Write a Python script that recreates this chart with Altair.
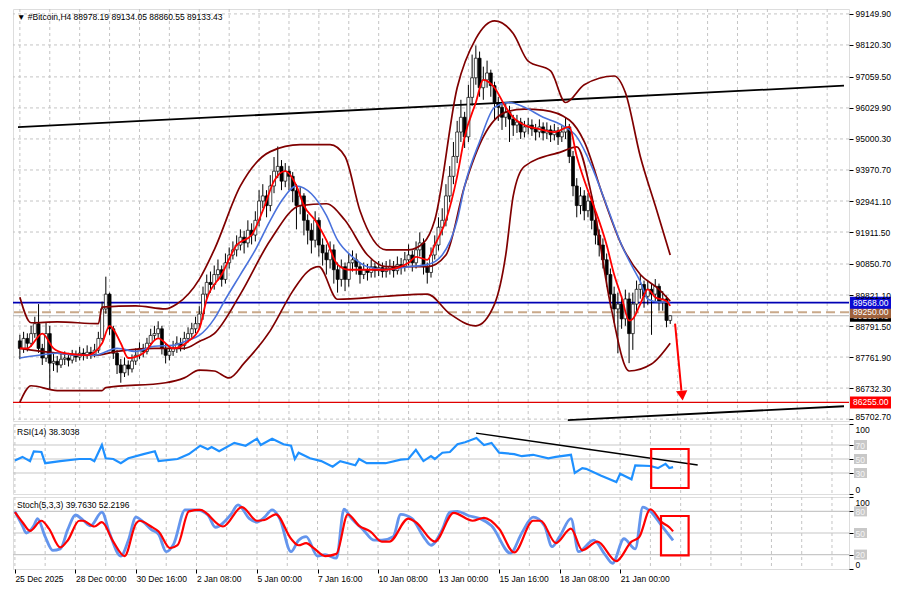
import altair as alt
import pandas as pd

# ---------------- candle data (H4 bars, bar 0 = 25 Dec 2025 08:00) ----------------
first_open = 88300.0
close = [
    88050, 88380, 88220, 88540, 88870, 88050, 87730, 88540, 87560, 87620,
    87500, 87690, 87730, 87660, 87820, 87760, 87890, 87820, 87920, 87860,
    87990, 88380, 89360, 89850, 88700, 87890, 87500, 87240, 87500, 87370,
    87630, 87820, 88050, 87950, 88220, 88480, 88540, 88700, 88050, 87820,
    87950, 88050, 88220, 88150, 88380, 88540, 88700, 88870, 89190, 89850,
    90240, 90170, 90500, 90660, 90340, 90890, 91150, 91320, 91480, 91740,
    91550, 91970, 91810, 92300, 92940, 93110, 92790, 93440, 93930, 94090,
    93600, 93930, 93760, 93280, 92790, 93110, 92300, 91970, 91640, 92300,
    91480, 91220, 90990, 91320, 90660, 90340, 90760, 90340, 90890, 90990,
    90760, 90500, 90660, 90570, 90760, 90630, 90730, 90600, 90700, 90760,
    90630, 90830, 90760, 90990, 91150, 90890, 91320, 91550, 90760, 90570,
    91150, 91480, 92070, 92300, 93110, 93760, 94420, 95230, 95720, 95070,
    96380, 97030, 97680, 96700, 96960, 97190, 96770, 96210, 96050, 95720,
    95890, 95660, 95460, 95560, 95230, 95400, 95460, 95330, 95230, 95400,
    95200, 95300, 95140, 95270, 95070, 95230, 95400, 94420, 93440, 92790,
    93110, 92620, 92940, 92300, 91810, 91480, 90990, 90500, 89850, 89360,
    89520, 89030, 89690, 88540, 89520, 90010, 90170, 89780, 90010, 89850,
    90110, 89590, 89690, 88978.19, 89133.43,
]
high = [
    88500, 88600, 88550, 88800, 89100, 89520, 88200, 88900, 88800, 87900,
    87800, 87900, 87950, 87900, 88000, 87980, 88100, 88050, 88150, 88100,
    88200, 88600, 89600, 90430, 89900, 88800, 88000, 87700, 87750, 87650,
    87850, 88050, 88250, 88200, 88400, 88700, 88800, 88950, 88800, 88200,
    88150, 88300, 88450, 88400, 88600, 88750, 88900, 89100, 89450, 90100,
    90500, 90600, 90800, 91000, 90800, 91200, 91400, 91600, 91800, 92000,
    91950, 92300, 92200, 92600, 93300, 93500, 93300, 93800, 94400, 94750,
    94300, 94200, 94100, 93900, 93500, 93400, 93200, 92500, 92200, 92600,
    92400, 91700, 91500, 91600, 91500, 90900, 91000, 90900, 91200, 91300,
    91200, 90900, 90900, 90850, 91000, 90900, 90950, 90900, 90950, 91000,
    90950, 91100, 91050, 91250, 91500, 91300, 91600, 91900, 91700, 90900,
    91400, 91800, 92400, 92700, 93500, 94100, 94900, 95600, 96300, 95900,
    96800, 97800, 98100, 97900, 97400, 97600, 97300, 96900, 96400, 96200,
    96200, 96100, 95800, 95800, 95700, 95600, 95700, 95650, 95500, 95650,
    95550, 95550, 95450, 95500, 95400, 95450, 95700, 95500, 94600, 93700,
    93400, 93300, 93200, 93100, 92500, 92000, 91700, 91200, 90700, 90100,
    89900, 89800, 90000, 89900, 89900, 90300, 90500, 90300, 90300, 90200,
    90350, 90200, 89950, 89800, 89134.05,
]
low = [
    87700, 87900, 87950, 88100, 88400, 87900, 87500, 87600, 86680, 87300,
    87250, 87400, 87500, 87450, 87550, 87600, 87650, 87650, 87700, 87700,
    87750, 87900, 88300, 89200, 88500, 87700, 87200, 86910, 87100, 87150,
    87250, 87500, 87700, 87750, 87850, 88100, 88300, 88400, 87850, 87550,
    87650, 87800, 87900, 87950, 88000, 88250, 88400, 88550, 88700, 89000,
    89700, 89900, 90000, 90300, 90100, 90200, 90700, 91000, 91100, 91300,
    91200, 91400, 91500, 91600, 92100, 92700, 92400, 92600, 93200, 93700,
    93300, 93400, 93300, 92900, 92000, 92500, 91800, 91500, 91200, 91400,
    91100, 90800, 90500, 90700, 90200, 89900, 90100, 89950, 90100, 90600,
    90500, 90200, 90350, 90300, 90400, 90400, 90450, 90400, 90400, 90500,
    90400, 90500, 90500, 90600, 90800, 90600, 90700, 91100, 90500, 90200,
    90400, 91000, 91300, 91800, 92100, 92900, 93500, 94200, 94900, 94700,
    94900, 96100, 96800, 96400, 96300, 96700, 96400, 95600, 95600, 95300,
    95400, 94900, 95100, 95200, 95000, 95050, 95150, 95100, 94950, 95050,
    94950, 95000, 94900, 94950, 94800, 94900, 95000, 94200, 93100, 92400,
    92500, 92300, 92400, 92000, 91500, 91100, 90700, 90100, 89400, 88900,
    87890, 88700, 88800, 87560, 88000, 89200, 89700, 89400, 89500, 88500,
    89600, 89300, 89300, 88750, 88860.55,
]

# ---------------- axes ----------------
price_ticks = [99149.90, 98120.30, 97059.50, 96029.90, 95000.30, 93970.70, 92941.10,
               91911.50, 90850.70, 89821.10, 88791.50, 87761.90, 86732.30, 85702.70]
x_tick_bars = [0, 16, 32, 48, 64, 80, 96, 112, 128, 144, 160]
x_tick_labels = ["25 Dec 2025", "28 Dec 00:00", "30 Dec 16:00", "2 Jan 08:00", "5 Jan 00:00",
                 "7 Jan 16:00", "10 Jan 08:00", "13 Jan 00:00", "15 Jan 16:00",
                 "18 Jan 08:00", "21 Jan 00:00"]
grid_bars = list(range(0, 221, 8))

# ---------------- indicators ----------------
bb_up_i = [0, 3, 10, 21, 22, 31, 39, 42, 48, 52, 59, 67, 75, 83, 87, 91, 98, 104, 108, 111,
           117, 122, 127, 132, 136, 142, 146, 151, 159, 162, 166, 170, 174]
bb_up_v = [89750, 88900, 88930, 88870, 89420, 89460, 89360, 89520, 90340, 91320, 93440, 94580,
           94810, 94810, 94420, 92620, 91320, 91320, 91550, 92300, 96700, 98330, 98920, 98500,
           97580, 97260, 96210, 96800, 97090, 96540, 94420, 92790, 91150]
bb_mid_i = [0, 10, 20, 26, 36, 44, 48, 52, 59, 67, 75, 82, 87, 93, 98, 109, 114, 119, 124, 130,
            135, 140, 147, 151, 156, 161, 166, 171, 174]
bb_mid_v = [88050, 87890, 87820, 87950, 88050, 88050, 88280, 88540, 89850, 91640, 92790, 92850,
            92300, 91150, 90760, 90760, 91150, 93440, 95070, 95890, 95990, 95960, 95630, 94910,
            93110, 91480, 90500, 90010, 89620]
bb_lo_i = [0, 3, 10, 22, 23, 39, 44, 48, 52, 56, 60, 67, 73, 77, 80, 85, 98, 109, 115, 122, 127,
           130, 132, 135, 145, 149, 153, 158, 163, 169, 174]
bb_lo_v = [86260, 86810, 86650, 86650, 86750, 86910, 87070, 87330, 87300, 87070, 87560, 88640,
           89950, 90600, 90760, 89680, 89780, 89850, 89200, 88800, 89520, 91150, 93110, 94090,
           94580, 94740, 93110, 89520, 87300, 87530, 88220]
ma_fast_i = [0, 2, 6, 9, 12, 18, 22, 24, 27, 29, 33, 37, 41, 45, 48, 50, 54, 58, 62, 65, 68, 71,
             74, 76, 79, 82, 85, 88, 93, 98, 104, 106, 109, 111, 114, 117, 119, 122, 124, 127,
             130, 132, 135, 139, 143, 147, 149, 152, 154, 157, 159, 161, 163, 164, 166, 168,
             170, 173, 174]
ma_fast_v = [88050, 88050, 88540, 88050, 87890, 87820, 88220, 88800, 88220, 87730, 87890, 88380,
             88050, 88280, 88700, 89680, 90500, 91480, 91810, 92620, 93600, 93930, 93440, 92790,
             92300, 91640, 90830, 90660, 90660, 90660, 90890, 91090, 90990, 91480, 92300, 93760,
             95070, 96210, 96960, 96700, 96050, 95720, 95460, 95330, 95230, 95400, 94420, 93280,
             92620, 91480, 90500, 89750, 88970, 89030, 89520, 90010, 89750, 89620, 89460]
ma_slow_i = [0, 5, 10, 15, 20, 26, 31, 36, 41, 45, 48, 52, 55, 59, 63, 67, 70, 74, 78, 82, 85,
             89, 93, 98, 104, 109, 113, 117, 119, 123, 127, 131, 135, 140, 145, 149, 153, 157,
             161, 164, 166, 168, 171, 174]
ma_slow_v = [87730, 87820, 87890, 87820, 87820, 88050, 87950, 88120, 88150, 88320, 88480, 89030,
             89680, 90500, 91320, 92300, 92940, 93440, 93180, 92460, 91640, 91090, 90760, 90660,
             90760, 90830, 91150, 92300, 93440, 94910, 96050, 96210, 96050, 95720, 95460, 95070,
             94090, 92790, 91480, 90730, 90270, 89680, 89590, 89590]

rsi_i = [0, 2, 4, 5, 7, 8, 12, 17, 20, 21, 23, 24, 26, 28, 30, 34, 37, 38, 43, 46, 49, 51, 52,
         54, 58, 61, 64, 65, 68, 71, 73, 74, 75, 78, 81, 84, 86, 90, 91, 93, 98, 102, 104, 106,
         108, 110, 111, 113, 115, 117, 119, 122, 124, 126, 128, 132, 134, 137, 141, 143, 147,
         148, 150, 151, 155, 159, 160, 163, 164, 168, 170, 172, 173, 174]
rsi_v = [48, 53, 47, 61, 60, 44, 47, 50, 50, 47, 70, 51, 50, 44, 51, 57, 61, 47, 50, 57, 69, 64,
         67, 61, 73, 69, 79, 70, 79, 71, 69, 50, 59, 51, 47, 39, 47, 41, 50, 44, 44, 49, 50, 63,
         47, 54, 50, 59, 60, 71, 74, 80, 70, 73, 59, 57, 54, 56, 51, 53, 56, 30, 37, 36, 26, 17,
         29, 21, 41, 40, 37, 43, 37, 38.3038]
rsi_levels = [70, 50, 30]

st_k_i = [0, 2, 3, 5, 6, 8, 10, 12, 14, 16, 18, 20, 23, 25, 28, 30, 32, 34, 36, 38, 40, 42, 45,
          48, 51, 53, 57, 59, 62, 64, 66, 68, 70, 73, 75, 77, 80, 82, 85, 87, 89, 92, 95, 97,
          100, 102, 105, 108, 110, 113, 115, 117, 120, 123, 126, 131, 134, 137, 140, 142, 144,
          147, 149, 153, 156, 158, 161, 164, 166, 168, 171, 174]
st_k_v = [80, 60, 50, 60, 70, 45, 26, 28, 55, 75, 68, 60, 79, 50, 18, 40, 72, 65, 55, 48, 24, 35,
          82, 82, 75, 58, 75, 89, 70, 65, 72, 82, 70, 24, 40, 45, 18, 20, 15, 83, 70, 55, 40, 40,
          45, 76, 70, 45, 33, 55, 79, 80, 74, 70, 60, 22, 50, 72, 60, 31, 45, 70, 24, 40, 20, 8,
          42, 28, 86, 80, 60, 39.763]
st_d_i = [0, 2, 4, 7, 9, 12, 14, 17, 18, 21, 23, 26, 29, 32, 33, 36, 38, 41, 43, 46, 49, 55, 60,
          64, 66, 69, 73, 75, 77, 79, 82, 85, 88, 91, 94, 97, 99, 104, 106, 111, 116, 121, 124,
          128, 132, 137, 139, 143, 147, 150, 154, 159, 163, 165, 168, 171, 173, 174]
st_d_v = [79, 65, 53, 67, 56, 30, 40, 67, 67, 59, 65, 38, 18, 63, 67, 59, 52, 29, 33, 80, 82, 59,
          86, 67, 68, 76, 42, 33, 36, 29, 18, 21, 76, 60, 52, 38, 38, 70, 65, 38, 78, 67, 71, 56,
          23, 67, 67, 36, 56, 26, 38, 11, 38, 44, 83, 65, 58, 52.2196]
st_levels = [80, 50, 20]

# ---------------- drawings ----------------
up_trend_i, up_trend_v = [-0.5, 220.5], [95396, 96767]
lo_trend_i, lo_trend_v = [146.6, 220.5], [85670, 86130]
arrow_i, arrow_v = [175.3, 177.0], [88870, 86650]
arrow_head_i, arrow_head_v = [177.2], [86480]
rsi_trend_i, rsi_trend_v = [121.9, 180.5], [87, 41.4]
rsi_box = {"i0": [168.2], "i1": [178.1], "v0": [64.3], "v1": [8.6]}
st_box = {"i0": [170.8], "i1": [178.1], "v0": [73.6], "v1": [19.0]}

level_prices = [89133.43, 89250.00, 89568.00, 86255.00]
level_texts = ["89133.43", "89250.00", "89568.00", "86255.00"]
level_box_colors = ["#000000", "#a0623c", "#0a0ad2", "#ff0000"]

title_main = "\u25bc #Bitcoin,H4  88978.19 89134.05 88860.55 89133.43"
title_rsi = "RSI(14) 38.3038"
title_st = "Stoch(5,3,3) 39.7630 52.2196"

# ---------------- layout ----------------
W = 836
H_MAIN, H_RSI, H_ST = 412, 70, 72
FONT = "Liberation Sans"
FS = 8.5
X_DOMAIN = [-0.5, 220.5]
Y_DOMAIN = [85640, 99313]
GRID_C = "#c4c4c4"

xs = alt.Scale(domain=X_DOMAIN, nice=False, zero=False)
ys = alt.Scale(domain=Y_DOMAIN, nice=False, zero=False)

yaxis_main = alt.Axis(orient="right", values=price_ticks, format=".2f", grid=False, domain=False,
                      tickColor="black", tickSize=4, labelPadding=2, labelFont=FONT,
                      labelFontSize=FS, labelColor="black", title=None, zindex=1,
                      labelOverlap=False, labelFlush=False,
                      labelOffset={"condition": {"test": "datum.value < 85800", "value": -3}, "value": 0})

lbl_expr = "[" + ",".join("'" + s + "'" for s in x_tick_labels) + "][datum.value/16]"
xaxis_bottom = alt.Axis(values=x_tick_bars, labelExpr=lbl_expr, labelAlign="left", labelPadding=1,
                        tickSize=4, tickColor="black", domain=False, grid=False, title=None,
                        labelFont=FONT, labelFontSize=FS, labelColor="black", labelFlush=False,
                        labelOverlap=False)


def X(field, axis=None):
    return alt.X(f"{field}:Q", scale=xs, axis=axis, title=None)


def Ym(field):
    return alt.Y(f"{field}:Q", scale=ys, axis=yaxis_main, title=None)


def line_df(ii, vv):
    return pd.DataFrame({"i": ii, "v": vv})


opens = [first_open] + close[:-1]
cdf = pd.DataFrame({"i": list(range(len(close))), "o": opens, "h": high, "l": low, "c": close})
gdf = pd.DataFrame({"g": grid_bars})
pdf = pd.DataFrame({"p": price_ticks})

# ---- main panel ----
main_layers = [
    alt.Chart(gdf).mark_rule(color=GRID_C, strokeDash=[3, 3], strokeWidth=1).encode(x=X("g")),
    alt.Chart(pdf).mark_rule(color=GRID_C, strokeDash=[3, 3], strokeWidth=1).encode(y=Ym("p")),
    alt.Chart(pd.DataFrame({"p": [level_prices[0]]})).mark_rule(color="#b4b4b4", strokeWidth=1).encode(y=Ym("p")),
    alt.Chart(pd.DataFrame({"p": [level_prices[1]]})).mark_rule(color="#c9a98a", strokeWidth=2, strokeDash=[9, 5]).encode(y=Ym("p")),
    alt.Chart(pd.DataFrame({"p": [level_prices[2]]})).mark_rule(color="#0000b4", strokeWidth=1.8).encode(y=Ym("p")),
    alt.Chart(pd.DataFrame({"p": [level_prices[3]]})).mark_rule(color="#e00000", strokeWidth=1.2).encode(y=Ym("p")),
    alt.Chart(line_df(up_trend_i, up_trend_v)).mark_line(color="black", strokeWidth=1.8, clip=True).encode(x=X("i"), y=Ym("v")),
    alt.Chart(line_df(lo_trend_i, lo_trend_v)).mark_line(color="black", strokeWidth=1.8, clip=True).encode(x=X("i"), y=Ym("v")),
    alt.Chart(cdf).mark_rule(color="black", strokeWidth=1).encode(x=X("i"), y=Ym("l"), y2="h:Q"),
    alt.Chart(cdf).mark_bar(size=3, stroke="black", strokeWidth=0.7).encode(
        x=X("i"), y=Ym("o"), y2="c:Q",
        fill=alt.condition("datum.c >= datum.o", alt.value("white"), alt.value("black"))),
    alt.Chart(line_df(bb_up_i, bb_up_v)).mark_line(color="#800000", strokeWidth=1.7, interpolate="monotone").encode(x=X("i"), y=Ym("v")),
    alt.Chart(line_df(bb_mid_i, bb_mid_v)).mark_line(color="#800000", strokeWidth=1.7, interpolate="monotone").encode(x=X("i"), y=Ym("v")),
    alt.Chart(line_df(bb_lo_i, bb_lo_v)).mark_line(color="#800000", strokeWidth=1.7, interpolate="monotone").encode(x=X("i"), y=Ym("v")),
    alt.Chart(line_df(ma_slow_i, ma_slow_v)).mark_line(color="#4a72dc", strokeWidth=1.6, interpolate="monotone").encode(x=X("i"), y=Ym("v")),
    alt.Chart(line_df(ma_fast_i, ma_fast_v)).mark_line(color="#ff0000", strokeWidth=1.8, interpolate="monotone").encode(x=X("i"), y=Ym("v")),
    alt.Chart(line_df(arrow_i, arrow_v)).mark_line(color="#ff0000", strokeWidth=2).encode(x=X("i"), y=Ym("v")),
    alt.Chart(line_df(arrow_head_i, arrow_head_v)).mark_point(shape="triangle-down", filled=True, size=130, color="#ff0000", opacity=1, angle=354).encode(x=X("i"), y=Ym("v")),
    alt.Chart(pd.DataFrame({"t": [title_main]})).mark_text(align="left", baseline="middle", font=FONT, fontSize=FS, color="black").encode(
        x=alt.value(4), y=alt.value(8), text="t:N"),
]
for p, t, bg in zip(level_prices, level_texts, level_box_colors):
    ldf = pd.DataFrame({"p": [p], "t": [t]})
    main_layers.append(alt.Chart(ldf).mark_rect(color=bg, yOffset=-6, y2Offset=6).encode(
        x=alt.value(W + 1), x2=alt.value(W + 42), y=Ym("p"), y2="p:Q"))
    main_layers.append(alt.Chart(ldf).mark_text(align="left", baseline="middle", font=FONT, fontSize=FS, color="white").encode(
        x=alt.value(W + 4), y=Ym("p"), text="t:N"))

main = alt.layer(*main_layers).properties(width=W, height=H_MAIN)


# ---- oscillator panels ----
def osc_panel(levels, series, trend, box, title, height, xaxis, yvalues):
    osc_scale = alt.Scale(domain=[0, 100], nice=False, zero=False)
    yax = alt.Axis(orient="right", values=yvalues, grid=False, domain=False, tickColor="black",
                   tickSize=4, labelPadding=2, labelFont=FONT, labelFontSize=FS, title=None,
                   zindex=1, labelOverlap=False, labelFlush=False,
                   labelColor={"condition": {"test": "datum.value == 0 || datum.value == 100", "value": "black"},
                               "value": "#f4f4f4"},
                   labelBaseline={"condition": {"test": "datum.value == 0", "value": "bottom"}, "value": "middle"},
                   labelOffset={"condition": {"test": "datum.value == 100", "value": 5}, "value": 0})

    def Yo(field):
        return alt.Y(f"{field}:Q", scale=osc_scale, axis=yax, title=None)

    ldf = pd.DataFrame({"lv": levels})
    layers = [
        alt.Chart(gdf).mark_rule(color=GRID_C, strokeDash=[3, 3], strokeWidth=1).encode(x=X("g", xaxis)),
        alt.Chart(ldf).mark_rule(color="#c8c8c8", strokeWidth=1.2).encode(y=Yo("lv")),
        alt.Chart(ldf).mark_rect(color="#c8c8c8", yOffset=-5, y2Offset=5).encode(
            x=alt.value(W + 5), x2=alt.value(W + 18), y=Yo("lv"), y2="lv:Q"),
    ]
    for ii, vv, col, sw, interp in series:
        layers.append(alt.Chart(line_df(ii, vv)).mark_line(color=col, strokeWidth=sw, interpolate=interp).encode(x=X("i", xaxis), y=Yo("v")))
    if trend is not None:
        layers.append(alt.Chart(line_df(*trend)).mark_line(color="black", strokeWidth=1.4).encode(x=X("i", xaxis), y=Yo("v")))
    layers.append(alt.Chart(pd.DataFrame(box)).mark_rect(fillOpacity=0, stroke="#ff0000", strokeWidth=2.2).encode(
        x=X("i0", xaxis), x2="i1:Q", y=Yo("v0"), y2="v1:Q"))
    layers.append(alt.Chart(pd.DataFrame({"t": [title]})).mark_text(align="left", baseline="middle", font=FONT, fontSize=FS, color="black").encode(
        x=alt.value(4), y=alt.value(8), text="t:N"))
    return alt.layer(*layers).properties(width=W, height=height)


rsi = osc_panel(rsi_levels, [(rsi_i, rsi_v, "#1e90ff", 2.2, "linear")], (rsi_trend_i, rsi_trend_v), rsi_box,
                title_rsi, H_RSI, None, [0, 30, 50, 70, 100])
stoch = osc_panel(st_levels, [(st_k_i, st_k_v, "#6495ed", 2.8, "monotone"), (st_d_i, st_d_v, "#ff0000", 2.2, "monotone")],
                  None, st_box, title_st, H_ST, xaxis_bottom, [0, 20, 50, 80, 100])

chart = alt.vconcat(main, rsi, stoch, spacing=3, bounds="flush").properties(
    padding={"left": 0, "top": 0, "right": 0, "bottom": 0}
).configure_view(stroke="black", strokeWidth=1).configure(background="white", font=FONT)

chart.save("out.html", embed_options={"renderer": "svg", "actions": False})
